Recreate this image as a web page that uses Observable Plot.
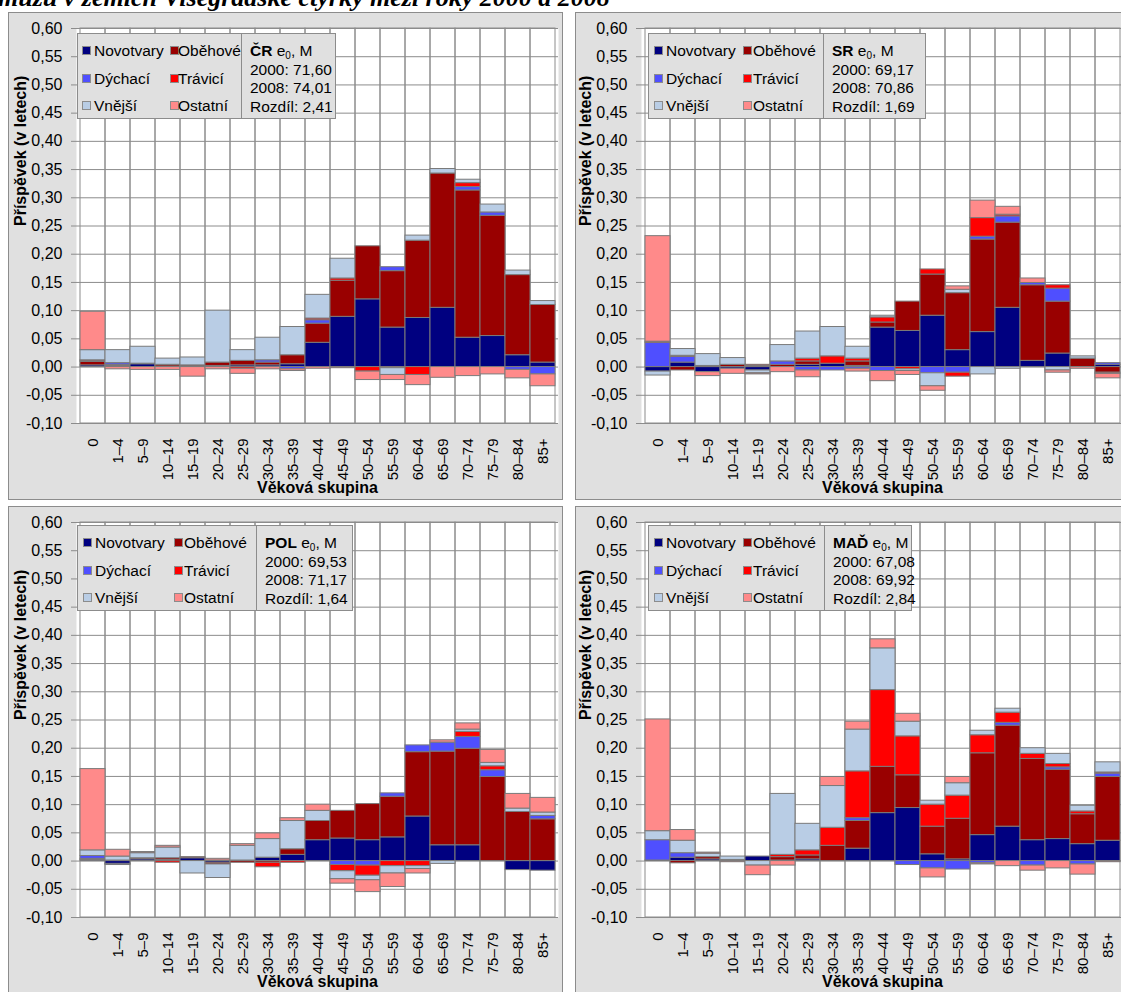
<!DOCTYPE html>
<html>
<head>
<meta charset="utf-8">
<script src="https://cdn.jsdelivr.net/npm/d3@7"></script>
<script src="https://cdn.jsdelivr.net/npm/@observablehq/plot@0.6"></script>
<style>
  html, body { margin: 0; padding: 0; background: #fff; }
  body { position: relative; width: 1121px; height: 992px; overflow: hidden;
         font-family: "Liberation Sans", Arial, sans-serif; color: #000; }
  .title { position: absolute; left: -2px; top: -15px; white-space: nowrap;
           font: italic bold 26px/26px "Liberation Serif", "Times New Roman", serif; }
  .panel { position: absolute; background: #e0e0e0; box-shadow: inset 0 0 0 1px #8c8c8c; }
  .panel svg { position: absolute; left: 0; top: 0; }
  .legend { position: absolute; box-sizing: border-box; height: 86px; background: #e0e0e0;
            border: 1px solid #8c8c8c; font-size: 15.5px; line-height: 18px; }
  .legend .key { position: absolute; white-space: nowrap; }
  .legend .sw { position: absolute; width: 7px; height: 7px; border: 1px solid #8c8c8c; }
  .legend .div { position: absolute; top: 0; bottom: 0; width: 1px; background: #8c8c8c; }
  .legend .info { position: absolute; top: 8px; line-height: 18.6px; white-space: nowrap; font-size: 15.5px; }
  .legend sub { font-size: 10px; vertical-align: -3px; line-height: 0; }
</style>
</head>
<body>
<div class="title">mužů v zemích Visegrádské čtyřky mezi roky 2000 a 2008</div>
<script>
// Age groups and causes of death
const ages = ["0", "1–4", "5–9", "10–14", "15–19", "20–24", "25–29", "30–34", "35–39", "40–44",
              "45–49", "50–54", "55–59", "60–64", "65–69", "70–74", "75–79", "80–84", "85+"];
const causes = ["Novotvary", "Oběhové", "Dýchací", "Trávicí", "Vnější", "Ostatní"];
const causeColors = ["#000080", "#990000", "#4f4fff", "#ff0000", "#b9cde5", "#ff8a8a"];
const yTicks = [-0.10, -0.05, 0.00, 0.05, 0.10, 0.15, 0.20, 0.25, 0.30, 0.35, 0.40, 0.45, 0.50, 0.55, 0.60];
const yTitle = "Příspěvek (v letech)";
const xTitle = "Věková skupina";

// Contributions (years) to the change in male life expectancy, by age group
// Czech Republic
const crNovotvary = [0.003, 0.002, 0.005, 0.001, 0.001, 0.002, 0.003, 0.003, 0.005, 0.043, 0.089, 0.120, 0.070, 0.087, 0.105, 0.052, 0.055, 0.021, 0.008];
const crObehove   = [0.006, 0.002, 0.001, 0.003, 0.002, 0.006, 0.008, 0.005, 0.016, 0.034, 0.064, 0.094, 0.100, 0.137, 0.238, 0.261, 0.213, 0.142, 0.102];
const crDychaci   = [0.002, 0.003, 0, 0, 0, 0, 0, 0.004, -0.004, 0.006, 0, 0, 0.007, 0, 0, 0.006, 0.006, -0.005, -0.013];
const crTravici   = [0.001, 0, 0, 0, 0, 0, -0.003, 0, 0, 0.003, 0.004, -0.008, -0.002, -0.014, 0, 0.007, 0, 0, 0];
const crVnejsi    = [0.018, 0.023, 0.030, 0.011, 0.014, 0.092, 0.019, 0.040, 0.050, 0.042, 0.035, 0, -0.012, 0.009, 0.008, 0.006, 0.014, 0.008, 0.007];
const crOstatni   = [0.068, -0.004, -0.005, -0.005, -0.017, -0.004, -0.009, -0.004, -0.003, -0.003, -0.002, -0.015, -0.009, -0.018, -0.019, -0.016, -0.013, -0.015, -0.021];
// Slovakia
const srNovotvary = [-0.008, 0.008, -0.009, -0.003, -0.006, 0, 0.004, 0.006, 0.002, 0.070, 0.064, 0.091, 0.030, 0.062, 0.105, 0.011, 0.024, 0, 0.004];
const srObehove   = [0, -0.006, 0.002, 0.004, 0.002, 0.004, 0.006, 0, 0.008, 0.009, 0.052, 0.073, 0.101, 0.164, 0.151, 0.134, 0.092, 0.015, -0.010];
const srDychaci   = [0.043, 0.010, 0, 0, 0, 0.006, -0.006, -0.006, -0.003, -0.007, 0, -0.011, -0.010, 0.005, 0.011, 0.004, 0.023, 0, 0.003];
const srTravici   = [0.002, 0.002, 0, 0, 0.002, 0, 0.005, 0.013, 0.005, 0.009, -0.004, 0.009, -0.007, 0.033, 0.003, 0, 0.006, 0, -0.002];
const srVnejsi    = [-0.007, 0.012, 0.021, 0.012, -0.005, 0.029, 0.048, 0.052, 0.021, 0.003, -0.003, -0.023, 0.006, -0.013, -0.003, 0, -0.006, 0.004, 0];
const srOstatni   = [0.187, 0, -0.007, -0.009, -0.002, -0.009, -0.012, 0, -0.005, -0.018, -0.007, -0.008, 0.006, 0.031, 0.014, 0.008, -0.004, -0.003, -0.008];
// Poland
const polNovotvary = [0.002, -0.005, 0.003, 0.002, 0.005, -0.003, 0.001, 0.006, 0.011, 0.037, 0.040, 0.037, 0.042, 0.079, 0.028, 0.028, 0, -0.016, -0.017];
const polObehove   = [0.002, 0.001, 0.002, 0.003, 0.002, -0.003, -0.003, -0.003, 0.010, 0.034, 0.049, 0.064, 0.072, 0.114, 0.166, 0.171, 0.149, 0.087, 0.074];
const polDychaci   = [0.005, -0.002, 0, 0, 0, 0, 0, 0, 0, 0, -0.007, -0.008, 0.006, 0.012, 0.016, 0.021, 0.012, 0, 0.006];
const polTravici   = [0, 0, 0, -0.003, 0, 0.001, 0, -0.008, -0.003, 0, -0.011, -0.018, -0.009, -0.009, 0, 0.009, 0.007, 0, 0];
const polVnejsi    = [0.010, 0.007, 0.009, 0.019, -0.022, -0.024, 0.026, 0.033, 0.050, 0.018, -0.014, -0.008, -0.013, -0.005, -0.005, 0.004, 0.006, 0.006, 0.006];
const polOstatni   = [0.144, 0.012, 0.002, 0.003, 0, 0.003, 0.003, 0.010, 0.005, 0.011, -0.008, -0.021, -0.024, -0.008, 0.004, 0.011, 0.023, 0.026, 0.026];
// Hungary
const madNovotvary = [0, 0.006, 0.003, 0.001, 0.008, 0.001, 0.003, 0, 0.022, 0.085, 0.094, 0.012, 0.003, 0.046, 0.061, 0.037, 0.039, 0.030, 0.036];
const madObehove   = [0.001, -0.004, 0.004, 0.001, 0, 0.006, 0.007, 0.027, 0.049, 0.082, 0.058, 0.049, 0.072, 0.145, 0.179, 0.144, 0.123, 0.053, 0.113];
const madDychaci   = [0.036, 0.008, 0, 0, 0, 0, 0, 0, 0.005, 0, -0.007, -0.013, -0.015, -0.004, 0.005, -0.008, 0.004, -0.006, 0.006];
const madTravici   = [0, 0, 0, 0, 0, 0.004, 0.009, 0.032, 0.083, 0.136, 0.069, 0.039, 0.041, 0.032, 0.018, 0.009, 0.006, 0.005, 0.002];
const madVnejsi    = [0.016, 0.022, 0.006, 0.006, -0.008, 0.108, 0.047, 0.074, 0.074, 0.074, 0.026, 0.007, 0.022, 0.008, 0.007, 0.010, 0.018, 0.010, 0.018];
const madOstatni   = [0.198, 0.019, 0.002, -0.002, -0.017, -0.008, 0, 0.016, 0.014, 0.016, 0.014, -0.016, 0.011, -0.002, -0.009, -0.009, -0.013, -0.018, -0.002];

// Life expectancy at birth (men) shown in each legend
const countryCodes = ["ČR", "SR", "POL", "MAĎ"];
const e0Y2000 = ["71,60", "69,17", "69,53", "67,08"];
const e0Y2008 = ["74,01", "70,86", "71,17", "69,92"];
const e0Diff  = ["2,41", "1,69", "1,64", "2,84"];

const seriesByCountry = [
  [crNovotvary, crObehove, crDychaci, crTravici, crVnejsi, crOstatni],
  [srNovotvary, srObehove, srDychaci, srTravici, srVnejsi, srOstatni],
  [polNovotvary, polObehove, polDychaci, polTravici, polVnejsi, polOstatni],
  [madNovotvary, madObehove, madDychaci, madTravici, madVnejsi, madOstatni]
];

// Panel frames and legend boxes
const layout = [
  {left: 8,   top: 12,  width: 555, ml: 68, legend: {left: 69, top: 21, width: 259, split: 163, cols: [[4, 16], [92, 100]]}},
  {left: 575, top: 12,  width: 553, ml: 66, legend: {left: 73, top: 21, width: 278, split: 174, cols: [[5, 17], [94, 104]]}},
  {left: 8,   top: 506, width: 555, ml: 68, legend: {left: 69, top: 19, width: 276, split: 178, cols: [[5, 17], [96, 106]]}},
  {left: 575, top: 506, width: 553, ml: 66, legend: {left: 73, top: 19, width: 264, split: 175, cols: [[5, 17], [94, 104]]}}
];

const gridColor = "#8c8c8c";
const fmt = d => d.toFixed(2).replace(".", ",");

function toRows(series) {
  const out = [];
  ages.forEach((a, i) => causes.forEach((c, j) => {
    const v = series[j][i];
    if (v !== 0) out.push({age: a, cause: c, value: v});
  }));
  return out;
}

function drawPanel(k) {
  const L = layout[k];
  const panel = document.createElement("div");
  panel.className = "panel";
  Object.assign(panel.style, {left: L.left + "px", top: L.top + "px", width: L.width + "px", height: "488px"});
  document.body.appendChild(panel);

  const data = toRows(seriesByCountry[k]);
  const chart = Plot.plot({
    width: L.width,
    height: 488,
    marginLeft: L.ml,
    marginRight: 5,
    marginTop: 16,
    marginBottom: 77,
    style: {fontFamily: '"Liberation Sans", Arial, sans-serif', fontSize: "16px", background: "transparent", color: "#000", overflow: "visible"},
    x: {domain: ages, padding: 0, label: null},
    y: {domain: [yTicks[0], yTicks[yTicks.length - 1]], label: null},
    color: {domain: causes, range: causeColors},
    marks: [
      Plot.frame({fill: "white", stroke: "none"}),
      Plot.barY(ages, {x: d => d, y1: yTicks[0], y2: yTicks[yTicks.length - 1], fill: "none", stroke: gridColor, inset: 0}),
      Plot.gridY(yTicks, {stroke: gridColor, strokeOpacity: 1}),
      Plot.barY(data, Plot.stackY({x: "age", y: "value", z: "cause", order: causes, fill: "cause",
                                    stroke: "#7a7a7a", strokeWidth: 1, inset: 0})),
      Plot.axisY(yTicks, {tickFormat: fmt, tickSize: 5, tickPadding: 9, fontSize: 16, stroke: gridColor, label: null}),
      Plot.axisX({tickRotate: -90, tickSize: 0, tickPadding: 15, fontSize: 15, label: null}),
      Plot.text([yTitle], {text: d => d, frameAnchor: "left", rotate: -90, dx: -56, fontWeight: "bold", fontSize: 16}),
      Plot.text([xTitle], {text: d => d, frameAnchor: "bottom", dy: 69, fontWeight: "bold", fontSize: 16})
    ]
  });
  panel.appendChild(chart);

  // Legend box: cause keys on the left, life expectancy summary on the right
  const lg = L.legend;
  const box = document.createElement("div");
  box.className = "legend";
  Object.assign(box.style, {left: lg.left + "px", top: lg.top + "px", width: lg.width + "px"});
  causes.forEach((c, i) => {
    const col = i % 2, row = Math.floor(i / 2);
    const cy = 17 + row * 27.5;
    const sw = document.createElement("div");
    sw.className = "sw";
    Object.assign(sw.style, {left: lg.cols[col][0] + "px", top: (cy - 5) + "px", background: causeColors[i]});
    box.appendChild(sw);
    const t = document.createElement("div");
    t.className = "key";
    t.textContent = c;
    Object.assign(t.style, {left: lg.cols[col][1] + "px", top: (cy - 9) + "px"});
    box.appendChild(t);
  });
  const dv = document.createElement("div");
  dv.className = "div";
  dv.style.left = lg.split + "px";
  box.appendChild(dv);
  const info = document.createElement("div");
  info.className = "info";
  info.style.left = (lg.split + 9) + "px";
  info.innerHTML = `<b>${countryCodes[k]}</b> e<sub>0</sub>, M<br>2000: ${e0Y2000[k]}<br>2008: ${e0Y2008[k]}<br>Rozdíl: ${e0Diff[k]}`;
  box.appendChild(info);
  panel.appendChild(box);
}

for (let k = 0; k < 4; k++) drawPanel(k);
</script>
</body>
</html>
